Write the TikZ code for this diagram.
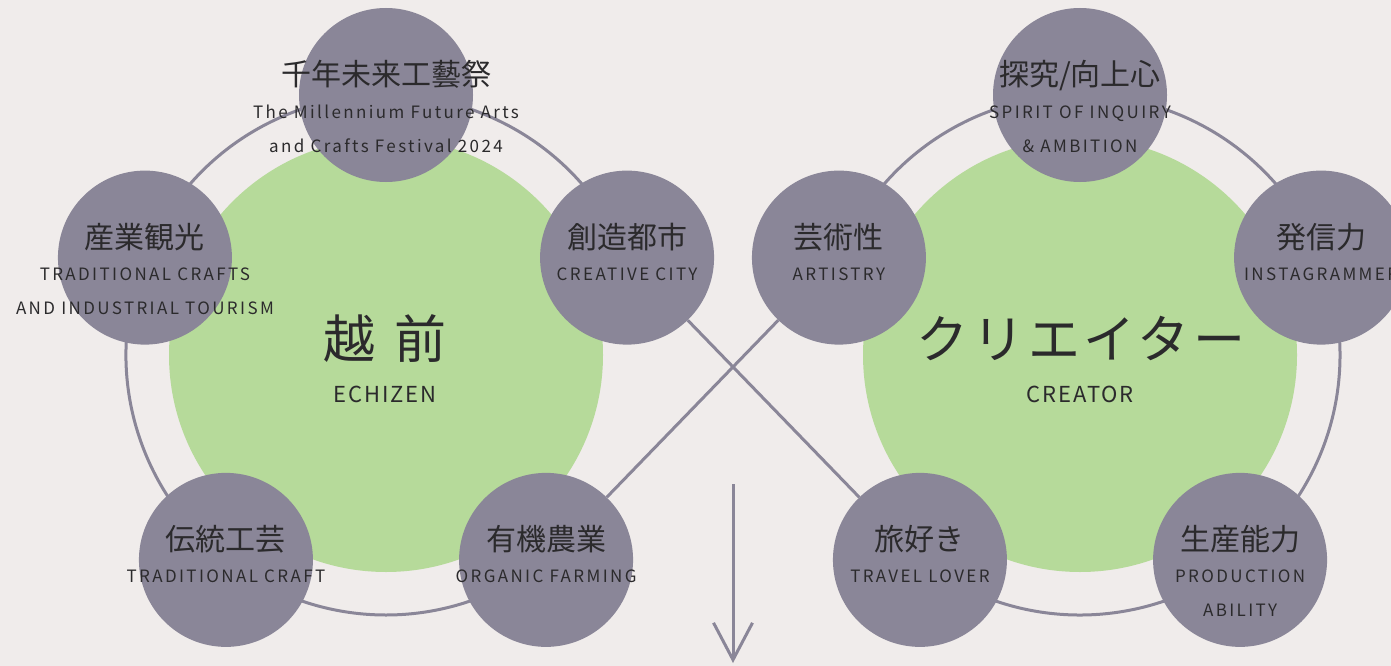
\documentclass[tikz,border=0pt]{standalone}
\usepackage{fontspec}
\setmainfont{Noto Sans CJK JP}
\newfontfamily\enfont[LetterSpace=14]{Noto Sans CJK JP}
\newfontfamily\bigen[LetterSpace=9]{Noto Sans CJK JP}
\newfontfamily\wideja[LetterSpace=7]{Noto Sans CJK JP}
\usetikzlibrary{calc,arrows.meta}
\definecolor{bgcol}{HTML}{F0ECEB}
\definecolor{leaf}{HTML}{B6DA9A}
\definecolor{slate}{HTML}{8A8698}
\definecolor{ink}{HTML}{2B2A2C}

\begin{document}
\begin{tikzpicture}[x=1pt,y=1pt,
    petal/.style={circle,fill=slate,minimum size=174pt,inner sep=0pt},
    ring/.style={draw=slate,line width=3pt},
    jp/.style={text=ink,anchor=base,inner sep=0pt,font=\fontsize{30}{32}\selectfont},
    en/.style={text=ink,anchor=base,inner sep=0pt,font=\enfont\fontsize{17}{20}\selectfont}]
    \fill[bgcol] (0,0) rectangle (1391,-666);
    \useasboundingbox (0,0) rectangle (1391,-666);
    \clip (0,0) rectangle (1391,-666);

    \coordinate (L) at (386,-355);
    \coordinate (R) at (1080,-355);
    \def\rr{260}

    % green cores
    \fill[leaf] (L) circle (217);
    \fill[leaf] (R) circle (217);

    % outer rings, open towards the middle
    \draw[ring] ($(L)+(22:\rr)$) arc[start angle=22,end angle=308,radius=\rr];
    \draw[ring] ($(R)+(232:\rr)$) arc[start angle=-128,end angle=158,radius=\rr];

    % petals of echizen
    \node[petal] (fest) at ($(L)+(90:\rr)$) {};
    \node[petal] (tour) at ($(L)+(158:\rr)$) {};
    \node[petal] (city) at ($(L)+(22:\rr)$) {};
    \node[petal] (craft) at ($(L)+(232:\rr)$) {};
    \node[petal] (farm) at ($(L)+(308:\rr)$) {};
    % petals of creator
    \node[petal] (inq) at ($(R)+(90:\rr)$) {};
    \node[petal] (art) at ($(R)+(158:\rr)$) {};
    \node[petal] (insta) at ($(R)+(22:\rr)$) {};
    \node[petal] (travel) at ($(R)+(232:\rr)$) {};
    \node[petal] (prod) at ($(R)+(308:\rr)$) {};

    % the crossing
    \draw[ring] (farm) -- (art);
    \draw[ring] (city) -- (travel);

    \coordinate (down top) at (733,-484);
    \coordinate (down tip) at (733,-663);
    \draw[ring,-{Straight Barb[length=37pt,width=39pt]}] (down top) -- (down tip);

    % centre words
    \node[text=ink,anchor=base,font=\fontsize{52}{56}\selectfont] (echizen) at (385,-358) {越\hspace{20pt}前};
    \node[text=ink,anchor=base,font=\bigen\fontsize{22}{24}\selectfont] (echizen en) at (385,-402) {ECHIZEN};
    \node[text=ink,anchor=base,font=\wideja\fontsize{52}{56}\selectfont] (creator) at (1081,-358) {クリエイター};
    \node[text=ink,anchor=base,font=\bigen\fontsize{22}{24}\selectfont] (creator en) at (1080,-402) {CREATOR};

    % petal words
    \begin{scope}[every node/.style={jp}]
      \node at ($(fest)+(0,9)$) {千年未来工藝祭};
      \node at ($(tour)+(0,9)$) {産業観光};
      \node at ($(city)+(0,9)$) {創造都市};
      \node at ($(craft)+(0,9)$) {伝統工芸};
      \node at ($(farm)+(0,9)$) {有機農業};
      \node at ($(inq)+(0,9)$) {探究/向上心};
      \node at ($(art)+(0,9)$) {芸術性};
      \node at ($(insta)+(0,9)$) {発信力};
      \node at ($(travel)+(0,9)$) {旅好き};
      \node at ($(prod)+(0,9)$) {生産能力};
    \end{scope}
    \begin{scope}[every node/.style={en}]
      \node at ($(fest)+(0,-23)$) {The Millennium Future Arts};
      \node at ($(fest)+(0,-57)$) {and Crafts Festival 2024};
      \node at ($(tour)+(0,-23)$) {TRADITIONAL CRAFTS};
      \node at ($(tour)+(0,-57)$) {AND INDUSTRIAL TOURISM};
      \node at ($(city)+(0,-23)$) {CREATIVE CITY};
      \node at ($(craft)+(0,-23)$) {TRADITIONAL CRAFT};
      \node at ($(farm)+(0,-23)$) {ORGANIC FARMING};
      \node at ($(inq)+(0,-23)$) {SPIRIT OF INQUIRY};
      \node at ($(inq)+(0,-57)$) {\& AMBITION};
      \node at ($(art)+(0,-23)$) {ARTISTRY};
      \node at ($(insta)+(0,-23)$) {INSTAGRAMMER};
      \node at ($(travel)+(0,-23)$) {TRAVEL LOVER};
      \node at ($(prod)+(0,-23)$) {PRODUCTION};
      \node at ($(prod)+(0,-57)$) {ABILITY};
    \end{scope}
\end{tikzpicture}
\end{document}
